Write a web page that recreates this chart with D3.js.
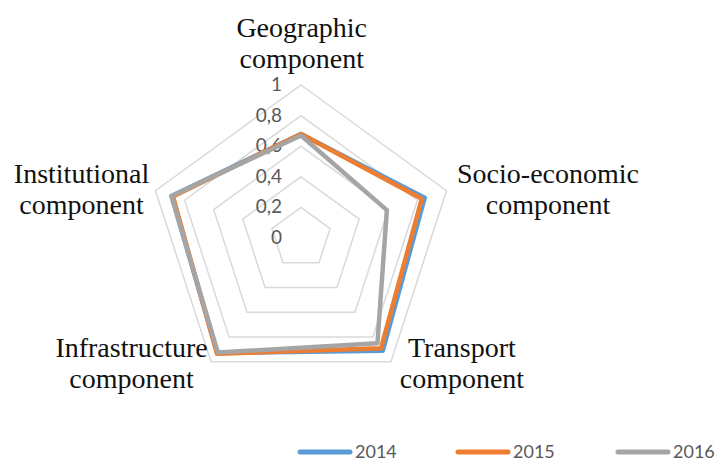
<!DOCTYPE html>
<html>
<head>
<meta charset="utf-8">
<script src="https://cdn.jsdelivr.net/npm/d3@7"></script>
<style>
  html, body { margin: 0; padding: 0; background: #fff; }
  svg { display: block; }
</style>
</head>
<body>
<svg id="chart" width="721" height="463"></svg>
<script>
// ---- data ----
const categories = [
  ["Geographic", "component"],
  ["Socio-economic", "component"],
  ["Transport", "component"],
  ["Infrastructure", "component"],
  ["Institutional", "component"]
];
const seriesNames = ["2014", "2015", "2016"];
const values2014 = [0.68, 0.85, 0.91, 0.93, 0.89];
const values2015 = [0.68, 0.83, 0.89, 0.935, 0.88];
const values2016 = [0.67, 0.59, 0.85, 0.925, 0.89];
const tickValues = [0, 0.2, 0.4, 0.6, 0.8, 1];
const tickLabels = ["0", "0,2", "0,4", "0,6", "0,8", "1"];

// ---- layout ----
const colors = ["#5B9BD5", "#ED7D31", "#A5A5A5"];
const cx = 301, cy = 238, R = 153;
const labelOffsets = [[0.7, -48.3], [101.5, -7.7], [71, -4.8], [-79.5, -5], [-74, -7.4]];
const legendX = [300, 458, 618];
const legendY = 452;

const svg = d3.select("#chart");
const r = d3.scaleLinear().domain([0, 1]).range([0, R]);
const angle = d3.scaleLinear().domain([0, categories.length]).range([0, 2 * Math.PI]);
const pt = (i, v) => {
  const a = angle(i) - Math.PI / 2;
  return [cx + r(v) * Math.cos(a), cy + r(v) * Math.sin(a)];
};
const closedLine = d3.line().curve(d3.curveLinearClosed);

// grid pentagons (skip 0 level, which is a point)
svg.append("g").selectAll("path")
  .data(tickValues.filter(t => t > 0))
  .join("path")
  .attr("d", t => closedLine(categories.map((c, i) => pt(i, t))))
  .attr("fill", "none")
  .attr("stroke", "#d9d9d9")
  .attr("stroke-width", 1.5);

// tick labels
svg.append("g").selectAll("text")
  .data(tickValues)
  .join("text")
  .attr("x", cx - 19)
  .attr("y", t => cy - r(t) + 6)
  .attr("text-anchor", "end")
  .attr("font-family", "Lato, 'Open Sans', sans-serif")
  .attr("font-size", 19)
  .attr("fill", "#595959")
  .text((t, i) => tickLabels[i]);

// series
const seriesData = [values2014, values2015, values2016];
svg.append("g").selectAll("path")
  .data(seriesData)
  .join("path")
  .attr("d", vals => closedLine(vals.map((v, i) => pt(i, v))))
  .attr("fill", "none")
  .attr("stroke", (d, i) => colors[i])
  .attr("stroke-width", 4.5)
  .attr("stroke-linejoin", "round");

// category labels
const lab = svg.append("g").selectAll("text")
  .data(categories)
  .join("text")
  .attr("text-anchor", "middle")
  .attr("font-family", "'Liberation Serif', 'Times New Roman', serif")
  .attr("font-size", 28)
  .attr("fill", "#111")
  .attr("transform", (d, i) => {
    const p = pt(i, 1);
    return `translate(${p[0] + labelOffsets[i][0]},${p[1] + labelOffsets[i][1]})`;
  });
lab.selectAll("tspan")
  .data(d => d)
  .join("tspan")
  .attr("x", 0)
  .attr("y", (d, j) => j * 31)
  .text(d => d);

// legend
const lg = svg.append("g").selectAll("g")
  .data(seriesNames)
  .join("g")
  .attr("transform", (d, i) => `translate(${legendX[i]},${legendY})`);
lg.append("line")
  .attr("x1", 0).attr("x2", 50).attr("y1", 0).attr("y2", 0)
  .attr("stroke", (d, i) => colors[i])
  .attr("stroke-width", 5)
  .attr("stroke-linecap", "round");
lg.append("text")
  .attr("x", 55).attr("y", 6)
  .attr("font-family", "Lato, 'Open Sans', sans-serif")
  .attr("font-size", 18)
  .attr("fill", "#595959")
  .text(d => d);
</script>
</body>
</html>
